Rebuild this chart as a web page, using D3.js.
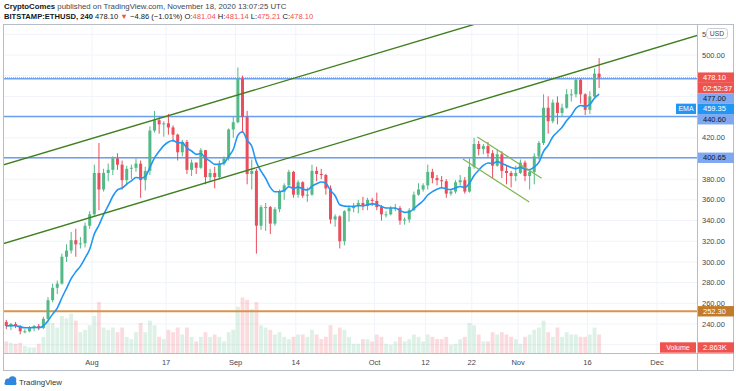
<!DOCTYPE html>
<html>
<head>
<meta charset="utf-8">
<script src="https://cdn.jsdelivr.net/npm/d3@7"></script>
<style>
  body { margin: 0; background: #fff; }
  svg { display: block; font-family: "Liberation Sans", Arial, sans-serif; }
</style>
</head>
<body>
<div id="chart"></div>
<script>
"use strict"

/* Chart data: one candle per day (Jul 13 - Nov 18 2020) */
let startDay = "2020-07-13";
let firstOpen = 242;

let closes = [
  238,240,238,233,233,236,238,236,245,263,275,279,305,311,321,317,318,335,346,
  386,370,386,389,400,394,379,390,391,395,379,388,427,437,433,434,430,423,406,416,389,396,391,408,382,386,382,395,400,428,435,
  477,440,385,388,335,353,353,337,351,368,374,387,365,377,364,365,388,385,384,371,341,344,320,349,352,354,357,354,360,359,
  353,346,346,352,352,340,341,350,365,370,374,387,381,379,378,366,368,377,379,368,392,414,409,412,405,393,404,388,386,383,386,
  396,383,387,402,415,449,436,454,444,449,462,462,476,462,447,460,482,478.10
];
let highs = [
  244,241,242,239,235,238,239,240,247,266,279,282,308,317,329,332,324,338,349,
  394,415,390,395,402,405,398,393,394,400,398,392,431,446,440,436,443,432,424,418,418,399,396,410,408,390,392,398,402,429,440,
  488,480,446,399,390,355,357,354,353,370,376,389,388,379,378,372,394,392,390,385,374,346,345,350,355,357,360,363,362,362,
  367,355,349,354,356,354,343,352,368,376,376,394,390,384,383,380,370,379,384,382,400,420,417,414,416,408,409,407,393,388,393,
  399,398,390,405,417,462,460,457,460,453,467,467,477,477,463,465,487,497
];
let lows = [
  235,234,236,230,231,232,233,234,235,244,261,269,278,300,308,305,313,314,332,
  344,350,368,378,384,389,370,374,380,387,362,369,384,425,424,421,423,416,398,402,385,383,385,390,375,378,371,380,393,398,420,
  434,425,375,370,308,331,330,327,335,348,360,372,362,362,362,358,364,378,380,365,337,334,313,316,339,348,347,350,350,354,
  350,340,343,345,349,336,336,338,349,364,368,370,376,374,371,362,364,366,374,366,367,390,403,404,401,381,392,381,375,372,378,
  385,378,370,375,399,413,424,434,433,441,448,455,459,453,442,443,458,468
];
// volume, thousands of ETH
let volumes = [
  25,22,20,22,15,12,12,20,35,70,65,55,80,75,85,70,45,50,60,
  80,110,55,50,55,45,55,35,30,45,65,45,70,60,35,30,50,45,55,40,55,35,25,35,45,35,40,35,25,45,50,
  100,120,115,95,110,60,55,50,40,45,35,30,35,40,40,35,50,40,30,35,60,40,55,50,35,20,20,30,30,25,
  40,35,20,18,25,35,25,30,40,35,25,40,35,30,30,35,18,20,30,35,65,60,40,25,25,45,40,45,40,35,30,
  20,35,40,50,55,70,45,35,55,35,45,40,40,35,35,40,55,40
];

/* Drawn levels and trend lines */
let blueLevels = [477.00, 440.60, 400.65];
let orangeLevels = [252.30];
let channelLines = [
  [["2020-07-12", 392.6], ["2020-11-30", 581]],
  [["2020-07-12", 316.6], ["2020-12-12", 522]]
];
let flagLines = [
  [["2020-10-23T05:00Z", 420.7], ["2020-11-06T02:00Z", 380.8]],
  [["2020-10-20T02:00Z", 399.4], ["2020-11-03T10:00Z", 357.9]]
];
let emaLabel = 459.35;
let countdown = "02:52:37";
let volumeLabel = "2.863K";

/* Axis ticks */
let priceTicks = [220, 240, 260, 280, 300, 320, 340, 360, 380, 400, 420, 440, 460, 480, 500, 520];
let timeTicks = ["2020-08-01", "2020-08-17", "2020-09-01", "2020-09-14", "2020-10-01",
                 "2020-10-12", "2020-10-22", "2020-11-01", "2020-11-16", "2020-12-01"];
let timeTickLabels = ["Aug", "17", "Sep", "14", "Oct", "12", "22", "Nov", "16", "Dec"];

/* Drawing config */
let svgWidth = 736;
let svgHeight = 391;
let plotLeft = 3, plotRight = 697, plotTop = 24, plotBottom = 353;
let frameRight = 733, frameBottom = 370;
let upColor = "#53b987";
let downColor = "#eb4d5c";

let svg = d3.select("#chart")
  .append("svg")
  .attr("width", svgWidth)
  .attr("height", svgHeight);

// build the candles
let candles = closes.map(function (c, i) {
  let day = d3.utcDay.offset(new Date(startDay + "T00:00Z"), i);
  let open = i === 0 ? firstOpen : closes[i - 1];
  return { day: day, open: open, high: highs[i], low: lows[i], close: c, volume: volumes[i] };
});

// EMA of the closes
let alpha = 2 / (9 + 1);
let ema = [];
candles.forEach(function (d, i) {
  ema.push(i === 0 ? d.close : alpha * d.close + (1 - alpha) * ema[i - 1]);
});

let xScale = d3.scaleUtc()
  .domain([new Date("2020-08-01T00:00Z"), new Date("2020-12-01T00:00Z")])
  .range([92, 657]);
let yScale = d3.scaleLinear()
  .domain([240, 500])
  .range([324, 55]);
let vScale = d3.scaleLinear()
  .domain([0, 160])
  .range([plotBottom, plotBottom - 74]);

function centerX(d) { return xScale(d3.utcHour.offset(d.day, 12)); }
let dayWidth = xScale(new Date("2020-08-02T00:00Z")) - xScale(new Date("2020-08-01T00:00Z"));

svg.append("clipPath").attr("id", "plotClip")
  .append("rect")
  .attr("x", plotLeft).attr("y", plotTop)
  .attr("width", plotRight - plotLeft).attr("height", plotBottom - plotTop);

/* grid */
let grid = svg.append("g").attr("clip-path", "url(#plotClip)");
grid.selectAll(".hgrid")
  .data(priceTicks)
  .join("line")
  .attr("x1", plotLeft).attr("x2", plotRight)
  .attr("y1", d => yScale(d)).attr("y2", d => yScale(d))
  .attr("stroke", "#f0f3fa");
grid.selectAll(".vgrid")
  .data(timeTicks)
  .join("line")
  .attr("x1", d => xScale(new Date(d + "T00:00Z")))
  .attr("x2", d => xScale(new Date(d + "T00:00Z")))
  .attr("y1", plotTop).attr("y2", plotBottom)
  .attr("stroke", "#f0f3fa");

let plot = svg.append("g").attr("clip-path", "url(#plotClip)");

/* volume */
plot.selectAll(".vol")
  .data(candles)
  .join("rect")
  .attr("x", d => centerX(d) - dayWidth / 2 + 0.4)
  .attr("width", dayWidth - 0.8)
  .attr("y", d => vScale(d.volume))
  .attr("height", d => plotBottom - vScale(d.volume))
  .attr("fill", d => d.close >= d.open ? upColor : downColor)
  .attr("opacity", 0.2);

/* horizontal levels */
plot.selectAll(".blueLevel")
  .data(blueLevels)
  .join("line")
  .attr("x1", plotLeft).attr("x2", plotRight)
  .attr("y1", d => yScale(d)).attr("y2", d => yScale(d))
  .attr("stroke", "#6d9ff1")
  .attr("stroke-width", 1.6);
plot.selectAll(".orangeLevel")
  .data(orangeLevels)
  .join("line")
  .attr("x1", plotLeft).attr("x2", plotRight)
  .attr("y1", d => yScale(d)).attr("y2", d => yScale(d))
  .attr("stroke", "#d9954e")
  .attr("stroke-width", 2);

// last price line
plot.append("line")
  .attr("x1", plotLeft).attr("x2", plotRight)
  .attr("y1", yScale(closes[closes.length - 1]))
  .attr("y2", yScale(closes[closes.length - 1]))
  .attr("stroke", "#c68bd6")
  .attr("stroke-dasharray", "1,1")
  .attr("stroke-width", 1);

/* candles */
let candleG = plot.selectAll(".candle")
  .data(candles)
  .join("g");
candleG.append("line")
  .attr("x1", d => centerX(d)).attr("x2", d => centerX(d))
  .attr("y1", d => yScale(d.high)).attr("y2", d => yScale(d.low))
  .attr("stroke", d => d.close >= d.open ? upColor : downColor)
  .attr("stroke-width", 1);
candleG.append("rect")
  .attr("x", d => centerX(d) - 1.5)
  .attr("width", 3)
  .attr("y", d => yScale(Math.max(d.open, d.close)))
  .attr("height", d => Math.max(1, Math.abs(yScale(d.open) - yScale(d.close))))
  .attr("fill", d => d.close >= d.open ? upColor : downColor);

/* EMA */
let emaLine = d3.line()
  .x((d, i) => centerX(candles[i]))
  .y(d => yScale(d))
  .curve(d3.curveMonotoneX);
plot.append("path")
  .datum(ema)
  .attr("d", emaLine)
  .attr("fill", "none")
  .attr("stroke", "#2196f3")
  .attr("stroke-width", 1.6);

/* trend lines */
let trendLine = d3.line()
  .x(d => xScale(new Date(d[0].length === 10 ? d[0] + "T00:00Z" : d[0])))
  .y(d => yScale(d[1]));
plot.selectAll(".channel")
  .data(channelLines)
  .join("path")
  .attr("d", trendLine)
  .attr("stroke", "#3f7f1f")
  .attr("stroke-width", 1.4)
  .attr("fill", "none");
plot.selectAll(".flag")
  .data(flagLines)
  .join("path")
  .attr("d", trendLine)
  .attr("stroke", "#82b552")
  .attr("stroke-width", 1.2)
  .attr("fill", "none");

/* frame */
svg.append("rect")
  .attr("x", plotLeft + 0.5).attr("y", plotTop + 0.5)
  .attr("width", frameRight - plotLeft).attr("height", frameBottom - plotTop)
  .attr("fill", "none")
  .attr("stroke", "#b8bcc6");
svg.append("line")
  .attr("x1", plotRight + 0.5).attr("x2", plotRight + 0.5)
  .attr("y1", plotTop).attr("y2", frameBottom)
  .attr("stroke", "#b8bcc6");
svg.append("line")
  .attr("x1", plotLeft).attr("x2", frameRight)
  .attr("y1", plotBottom + 0.5).attr("y2", plotBottom + 0.5)
  .attr("stroke", "#b8bcc6");

/* badges on the price axis, stacked so they do not overlap */
let red = "#ef5350";
let badges = [
  { value: closes[closes.length - 1], text: "478.10", fill: red, color: "#fff" },
  { value: closes[closes.length - 1], text: countdown, fill: red, color: "#fff" },
  { value: blueLevels[0], text: "477.00", fill: "#7ea8f0", color: "#131722" },
  { value: emaLabel, text: "459.35", fill: "#2196f3", color: "#fff", tag: "EMA" },
  { value: blueLevels[1], text: "440.60", fill: "#7ea8f0", color: "#131722" },
  { value: blueLevels[2], text: "400.65", fill: "#7ea8f0", color: "#131722" },
  { value: orangeLevels[0], text: "252.30", fill: "#c27a2c", color: "#fff" }
];
let badgeH = 10.4;
let prevY = -Infinity;
badges.forEach(function (b) {
  b.y = Math.max(yScale(b.value), prevY + badgeH);
  prevY = b.y;
});
let volumeBadgeY = plotBottom - 5.5;

/* price axis labels; the top one sits under the USD box, only its first digit shows */
let shownTicks = priceTicks.filter(function (p) {
  let y = yScale(p);
  return y > plotTop + 4 && y < plotBottom - 3 &&
    badges.every(b => Math.abs(b.y - y) > 7) && Math.abs(volumeBadgeY - y) > 7;
});
svg.selectAll(".ptick")
  .data(shownTicks)
  .join("text")
  .attr("x", 702)
  .attr("y", d => yScale(d))
  .attr("dy", "0.35em")
  .attr("font-size", 7.5)
  .attr("fill", "#434651")
  .text(d => yScale(d) < plotTop + 15 ? d.toFixed(2).slice(0, 1) : d.toFixed(2));

// USD box over the top label
svg.append("rect")
  .attr("x", 706.5).attr("y", 28.5).attr("width", 21).attr("height", 10)
  .attr("rx", 3)
  .attr("fill", "#fff").attr("stroke", "#c8ccd4");
svg.append("text")
  .attr("x", 717).attr("y", 33.5).attr("dy", "0.35em")
  .attr("text-anchor", "middle")
  .attr("font-size", 6.8).attr("fill", "#434651")
  .text("USD");

let badgeG = svg.selectAll(".badge")
  .data(badges)
  .join("g");
badgeG.append("rect")
  .attr("x", plotRight + 1).attr("y", d => d.y - badgeH / 2)
  .attr("width", 36).attr("height", badgeH)
  .attr("fill", d => d.fill);
badgeG.append("text")
  .attr("x", 703).attr("y", d => d.y).attr("dy", "0.35em")
  .attr("font-size", 7.5)
  .attr("fill", d => d.color)
  .text(d => d.text);

// EMA tag left of the axis
let emaBadge = badges.find(b => b.tag);
svg.append("rect")
  .attr("x", 676).attr("y", emaBadge.y - badgeH / 2)
  .attr("width", 20).attr("height", badgeH)
  .attr("fill", "#2196f3");
svg.append("text")
  .attr("x", 686).attr("y", emaBadge.y).attr("dy", "0.35em")
  .attr("text-anchor", "middle")
  .attr("font-size", 7).attr("fill", "#fff")
  .text("EMA");

// volume badge
svg.append("rect")
  .attr("x", 660).attr("y", volumeBadgeY - badgeH / 2)
  .attr("width", 36).attr("height", badgeH).attr("fill", red);
svg.append("text")
  .attr("x", 678).attr("y", volumeBadgeY).attr("dy", "0.35em")
  .attr("text-anchor", "middle")
  .attr("font-size", 7).attr("fill", "#fff")
  .text("Volume");
svg.append("rect")
  .attr("x", plotRight + 1).attr("y", volumeBadgeY - badgeH / 2)
  .attr("width", 36).attr("height", badgeH).attr("fill", red);
svg.append("text")
  .attr("x", 703).attr("y", volumeBadgeY).attr("dy", "0.35em")
  .attr("font-size", 7.5).attr("fill", "#fff")
  .text(volumeLabel);

/* time axis labels */
svg.selectAll(".ttick")
  .data(timeTicks)
  .join("text")
  .attr("x", d => xScale(new Date(d + "T00:00Z")))
  .attr("y", 364.5)
  .attr("text-anchor", "middle")
  .attr("font-size", 7.5)
  .attr("fill", "#434651")
  .text((d, i) => timeTickLabels[i]);

/* header */
let line1 = svg.append("text")
  .attr("x", 4).attr("y", 9)
  .attr("font-size", 7.8)
  .attr("fill", "#434651");
line1.append("tspan").attr("font-weight", "bold").attr("fill", "#131722").text("CryptoComes");
line1.append("tspan").text(" published on TradingView.com, November 18, 2020 13:07:25 UTC");

let line2 = svg.append("text")
  .attr("x", 4).attr("y", 19)
  .attr("font-size", 7.6)
  .attr("fill", "#131722");
line2.append("tspan").attr("font-weight", "bold").text("BITSTAMP:ETHUSD, 240");
line2.append("tspan").text(" 478.10 ");
line2.append("tspan").attr("fill", red).text("▼");
line2.append("tspan").text(" −4.86 (−1.01%) ");
let ohlc = [["O:", "481.04"], ["H:", "481.14"], ["L:", "475.21"], ["C:", "478.10"]];
ohlc.forEach(function (p, i) {
  line2.append("tspan").text((i ? " " : "") + p[0]);
  line2.append("tspan").attr("fill", red).text(p[1]);
});

/* footer logo */
let logo = svg.append("g").attr("fill", "#2e86de");
logo.append("circle").attr("cx", 8).attr("cy", 381.5).attr("r", 3);
logo.append("circle").attr("cx", 12.5).attr("cy", 380).attr("r", 3.8);
logo.append("rect").attr("x", 4.5).attr("y", 381.5).attr("width", 12).attr("height", 3.5).attr("rx", 1.5);
svg.append("text")
  .attr("x", 19).attr("y", 384.5)
  .attr("font-size", 7.8)
  .attr("fill", "#333")
  .text("TradingView");
</script>
</body>
</html>
